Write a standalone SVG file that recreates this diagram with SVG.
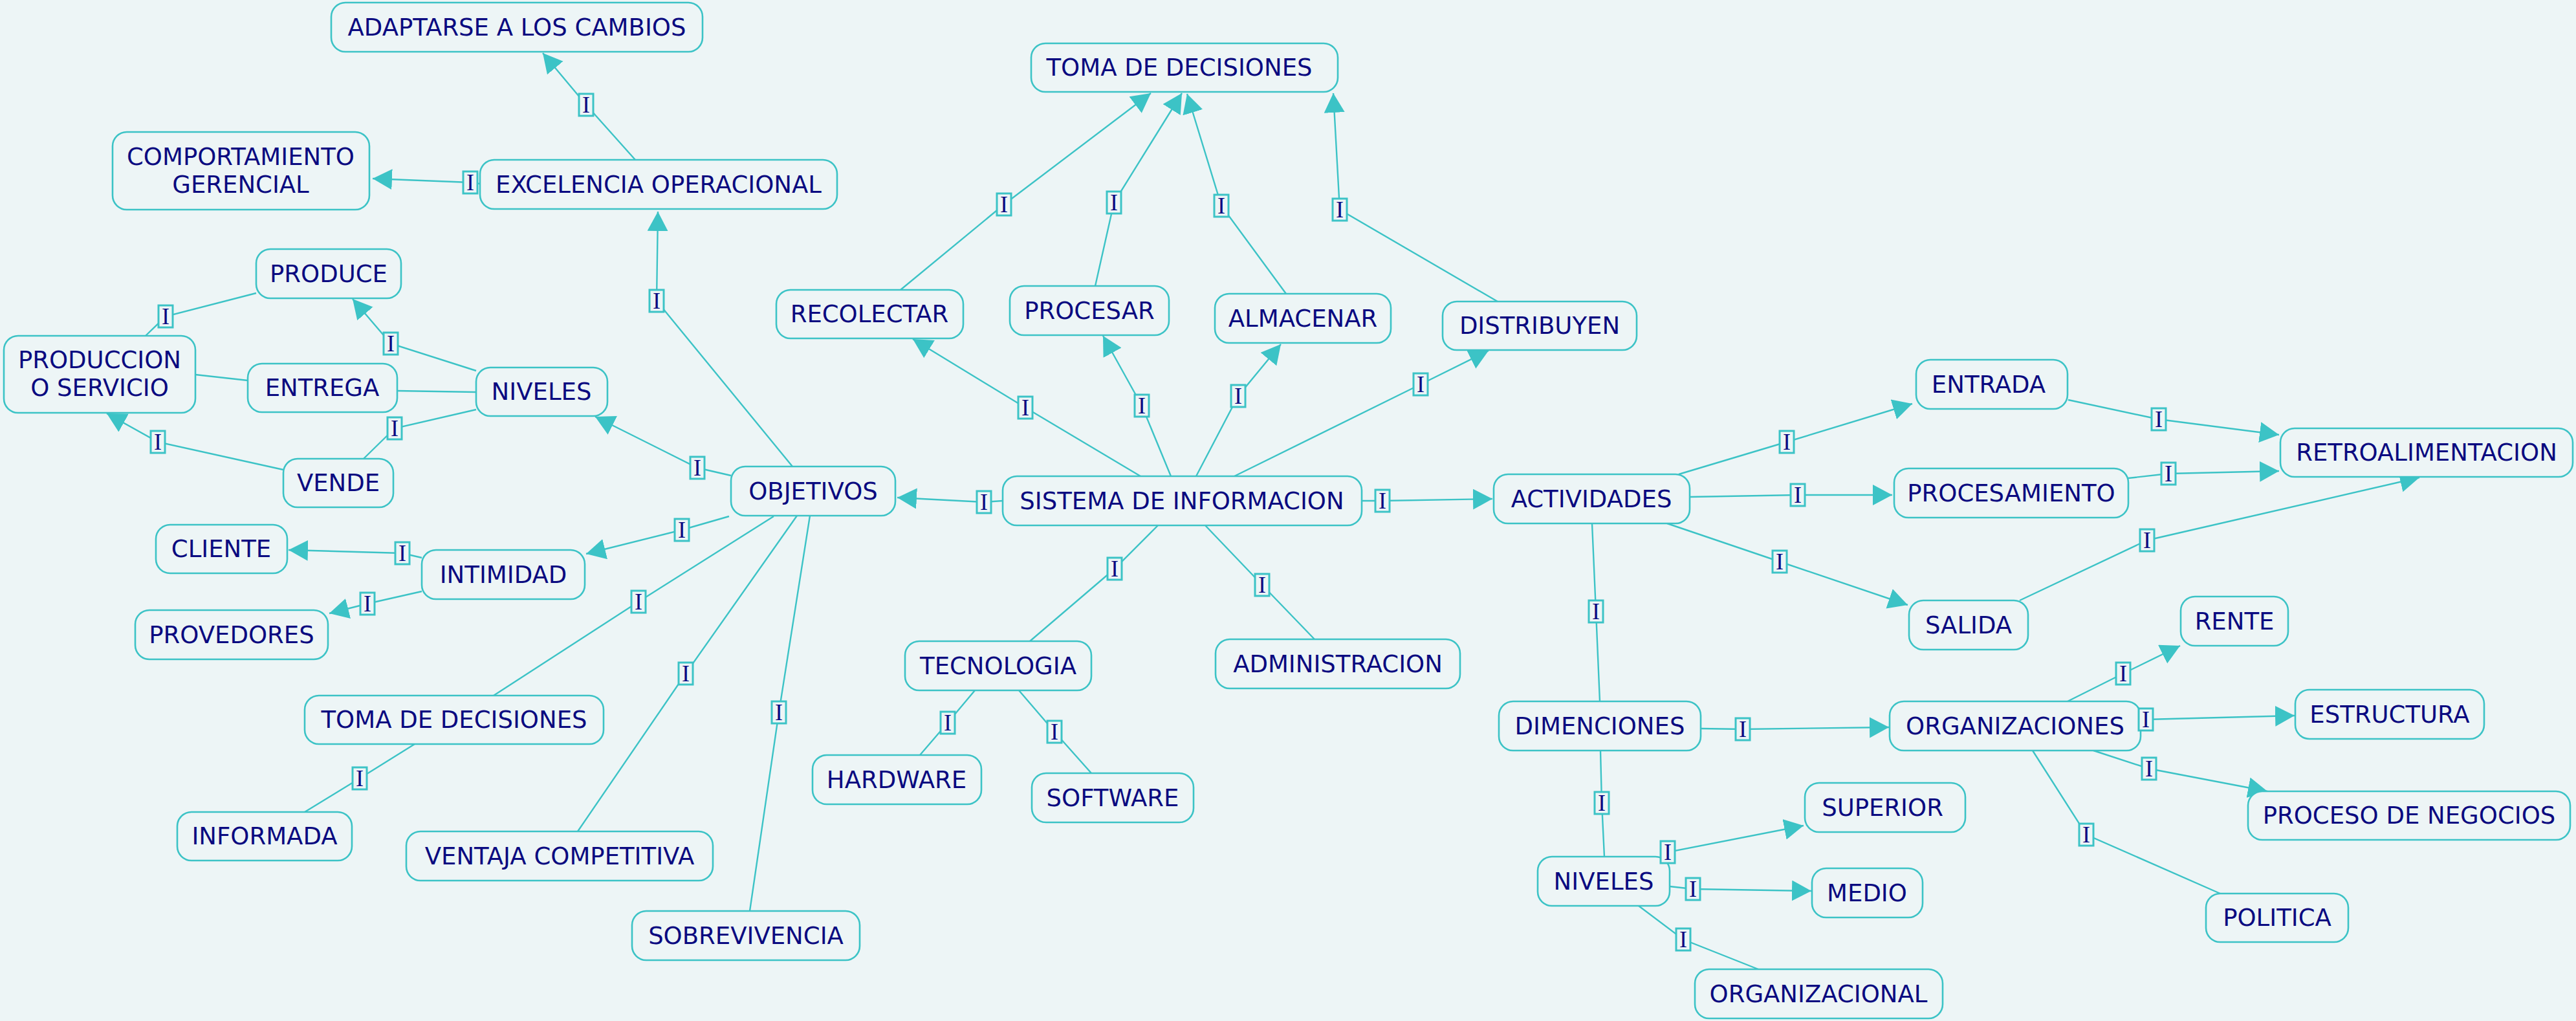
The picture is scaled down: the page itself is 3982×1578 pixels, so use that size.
<svg xmlns="http://www.w3.org/2000/svg" width="3982" height="1578" viewBox="0 0 3982 1578">
<style>
.bg{fill:#EDF5F6}
.n rect{fill:#EDF5F6;stroke:#3CC3C6;stroke-width:2.6}
.n text{font-family:"DejaVu Sans",Verdana,sans-serif;font-size:37px;fill:#0A0A80;text-anchor:middle}
.c polyline{fill:none;stroke:#3CC3C6;stroke-width:2.4}
.c polyline.a{marker-end:url(#ah)}
.lb rect{fill:#EDF5F6;stroke:#3CC3C6;stroke-width:3}
.lb text{font-family:"Liberation Serif",serif;font-size:36px;fill:#0A0A80;text-anchor:middle}
</style>
<defs>
<marker id="ah" markerUnits="userSpaceOnUse" markerWidth="32" markerHeight="34" refX="30" refY="16" orient="auto" viewBox="0 0 32 34">
<path d="M0,0 L30,16 L0,32 Z" fill="#3CC3C6"/>
</marker>
</defs>
<rect class="bg" x="0" y="0" width="3982" height="1578"/>

<g id="connectors" class="c">
<polyline class="a" points="982,247 906,162 839,82"/>
<polyline class="a" points="742,284 727,282 576,276"/>
<polyline class="a" points="1225,721 1015,465 1017,327"/>
<polyline class="a" points="1130,735 1078,723 920,644"/>
<polyline class="a" points="736,573 604,531 545,462"/>
<polyline points="736,606 614,604"/>
<polyline points="383,588 302,579"/>
<polyline points="736,633 610,662 562,709"/>
<polyline class="a" points="438,726 244,683 165,639"/>
<polyline points="396,453 256,489 225,519"/>
<polyline class="a" points="1127,798 1054,819 906,856"/>
<polyline class="a" points="652,862 622,855 446,850"/>
<polyline class="a" points="652,914 568,933 509,948"/>
<polyline points="1196,798 987,930 763,1075"/>
<polyline points="641,1150 556,1203 471,1255"/>
<polyline points="1232,797 1060,1041 893,1285"/>
<polyline points="1252,797 1204,1101 1159,1408"/>
<polyline class="a" points="1550,774 1521,776 1387,769"/>
<polyline class="a" points="2105,774 2137,774 2307,771"/>
<polyline class="a" points="1763,736 1585,630 1411,524"/>
<polyline class="a" points="1810,736 1765,627 1705,519"/>
<polyline class="a" points="1849,736 1914,612 1980,532"/>
<polyline class="a" points="1908,736 2196,594 2301,542"/>
<polyline class="a" points="1392,448 1552,316 1779,144"/>
<polyline class="a" points="1693,442 1722,313 1827,144"/>
<polyline class="a" points="1988,454 1888,318 1835,145"/>
<polyline class="a" points="2315,466 2071,324 2061,144"/>
<polyline points="1790,812 1723,879 1592,991"/>
<polyline points="1863,812 1951,904 2032,988"/>
<polyline points="1507,1067 1465,1117 1422,1167"/>
<polyline points="1575,1067 1630,1131 1687,1195"/>
<polyline class="a" points="2595,733 2762,683 2956,624"/>
<polyline class="a" points="2612,768 2779,765 2925,765"/>
<polyline class="a" points="2577,809 2751,868 2949,935"/>
<polyline class="a" points="3197,618 3337,648 3523,672"/>
<polyline class="a" points="3290,739 3352,732 3523,728"/>
<polyline class="a" points="3122,928 3319,835 3740,738"/>
<polyline points="2461,809 2467,945 2473,1084"/>
<polyline class="a" points="2629,1126 2694,1127 2920,1124"/>
<polyline points="2474,1160 2476,1241 2480,1324"/>
<polyline class="a" points="2570,1324 2578,1317 2788,1276"/>
<polyline class="a" points="2581,1370 2617,1374 2800,1377"/>
<polyline points="2533,1400 2602,1452 2718,1498"/>
<polyline class="a" points="3196,1084 3282,1041 3370,998"/>
<polyline class="a" points="3309,1113 3317,1112 3547,1106"/>
<polyline class="a" points="3236,1160 3322,1188 3505,1223"/>
<polyline points="3142,1160 3225,1290 3432,1381"/>
</g>

<g id="nodes" class="n">
<g id="n-adaptarse"><rect x="512" y="4" width="574" height="76" rx="22"/><text x="799" y="55">ADAPTARSE A LOS CAMBIOS</text></g>
<g id="n-comportamiento"><rect x="174" y="204" width="397" height="120" rx="22"/><text x="372" y="255">COMPORTAMIENTO</text><text x="372" y="298">GERENCIAL</text></g>
<g id="n-excelencia"><rect x="742" y="247" width="552" height="76" rx="22"/><text x="1018" y="298">EXCELENCIA OPERACIONAL</text></g>
<g id="n-produce"><rect x="396" y="385" width="224" height="76" rx="22"/><text x="508" y="436">PRODUCE</text></g>
<g id="n-produccion"><rect x="6" y="519" width="296" height="119" rx="22"/><text x="154" y="569">PRODUCCION</text><text x="154" y="612">O SERVICIO</text></g>
<g id="n-entrega"><rect x="383" y="562" width="231" height="75" rx="22"/><text x="498" y="612">ENTREGA</text></g>
<g id="n-niveles-l"><rect x="736" y="568" width="203" height="75" rx="22"/><text x="837" y="618">NIVELES</text></g>
<g id="n-vende"><rect x="438" y="709" width="170" height="75" rx="22"/><text x="523" y="759">VENDE</text></g>
<g id="n-objetivos"><rect x="1130" y="721" width="254" height="76" rx="22"/><text x="1257" y="772">OBJETIVOS</text></g>
<g id="n-recolectar"><rect x="1200" y="448" width="289" height="75" rx="22"/><text x="1344" y="498">RECOLECTAR</text></g>
<g id="n-toma-top"><rect x="1594" y="67" width="474" height="75" rx="22"/><text x="1823" y="117">TOMA DE DECISIONES</text></g>
<g id="n-procesar"><rect x="1561" y="442" width="246" height="76" rx="22"/><text x="1684" y="493">PROCESAR</text></g>
<g id="n-almacenar"><rect x="1878" y="454" width="272" height="76" rx="22"/><text x="2014" y="505">ALMACENAR</text></g>
<g id="n-distribuyen"><rect x="2230" y="466" width="300" height="75" rx="22"/><text x="2380" y="516">DISTRIBUYEN</text></g>
<g id="n-sistema"><rect x="1550" y="736" width="555" height="76" rx="22"/><text x="1827" y="787">SISTEMA DE INFORMACION</text></g>
<g id="n-actividades"><rect x="2309" y="733" width="303" height="76" rx="22"/><text x="2460" y="784">ACTIVIDADES</text></g>
<g id="n-tecnologia"><rect x="1399" y="991" width="288" height="76" rx="22"/><text x="1543" y="1042">TECNOLOGIA</text></g>
<g id="n-administracion"><rect x="1879" y="988" width="378" height="76" rx="22"/><text x="2068" y="1039">ADMINISTRACION</text></g>
<g id="n-hardware"><rect x="1256" y="1167" width="261" height="76" rx="22"/><text x="1386" y="1218">HARDWARE</text></g>
<g id="n-software"><rect x="1595" y="1195" width="250" height="76" rx="22"/><text x="1720" y="1246">SOFTWARE</text></g>
<g id="n-cliente"><rect x="241" y="811" width="203" height="75" rx="22"/><text x="342" y="861">CLIENTE</text></g>
<g id="n-intimidad"><rect x="652" y="850" width="252" height="76" rx="22"/><text x="778" y="901">INTIMIDAD</text></g>
<g id="n-provedores"><rect x="209" y="943" width="298" height="76" rx="22"/><text x="358" y="994">PROVEDORES</text></g>
<g id="n-toma-left"><rect x="471" y="1075" width="462" height="75" rx="22"/><text x="702" y="1125">TOMA DE DECISIONES</text></g>
<g id="n-informada"><rect x="274" y="1255" width="270" height="75" rx="22"/><text x="409" y="1305">INFORMADA</text></g>
<g id="n-ventaja"><rect x="628" y="1285" width="474" height="76" rx="22"/><text x="865" y="1336">VENTAJA COMPETITIVA</text></g>
<g id="n-sobrevivencia"><rect x="977" y="1408" width="352" height="76" rx="22"/><text x="1153" y="1459">SOBREVIVENCIA</text></g>
<g id="n-entrada"><rect x="2962" y="556" width="234" height="76" rx="22"/><text x="3074" y="607">ENTRADA</text></g>
<g id="n-procesamiento"><rect x="2928" y="724" width="362" height="76" rx="22"/><text x="3109" y="775">PROCESAMIENTO</text></g>
<g id="n-retro"><rect x="3525" y="662" width="452" height="75" rx="22"/><text x="3751" y="712">RETROALIMENTACION</text></g>
<g id="n-salida"><rect x="2951" y="928" width="184" height="76" rx="22"/><text x="3043" y="979">SALIDA</text></g>
<g id="n-rente"><rect x="3371" y="922" width="166" height="76" rx="22"/><text x="3454" y="973">RENTE</text></g>
<g id="n-estructura"><rect x="3548" y="1066" width="292" height="76" rx="22"/><text x="3694" y="1117">ESTRUCTURA</text></g>
<g id="n-organizaciones"><rect x="2921" y="1084" width="388" height="76" rx="22"/><text x="3115" y="1135">ORGANIZACIONES</text></g>
<g id="n-dimenciones"><rect x="2317" y="1084" width="312" height="76" rx="22"/><text x="2473" y="1135">DIMENCIONES</text></g>
<g id="n-proceso"><rect x="3475" y="1223" width="498" height="75" rx="22"/><text x="3724" y="1273">PROCESO DE NEGOCIOS</text></g>
<g id="n-superior"><rect x="2790" y="1210" width="248" height="76" rx="22"/><text x="2910" y="1261">SUPERIOR</text></g>
<g id="n-niveles-r"><rect x="2377" y="1324" width="204" height="76" rx="22"/><text x="2479" y="1375">NIVELES</text></g>
<g id="n-medio"><rect x="2801" y="1342" width="171" height="76" rx="22"/><text x="2886" y="1393">MEDIO</text></g>
<g id="n-politica"><rect x="3410" y="1381" width="220" height="75" rx="22"/><text x="3520" y="1431">POLITICA</text></g>
<g id="n-organizacional"><rect x="2620" y="1498" width="383" height="76" rx="22"/><text x="2811" y="1549">ORGANIZACIONAL</text></g>
</g>

<g id="link-labels" class="lb">
<g transform="translate(906,162)"><rect x="-11" y="-17" width="22" height="34"/><text y="12">I</text></g>
<g transform="translate(727,282)"><rect x="-11" y="-17" width="22" height="34"/><text y="12">I</text></g>
<g transform="translate(1015,465)"><rect x="-11" y="-17" width="22" height="34"/><text y="12">I</text></g>
<g transform="translate(1078,723)"><rect x="-11" y="-17" width="22" height="34"/><text y="12">I</text></g>
<g transform="translate(604,531)"><rect x="-11" y="-17" width="22" height="34"/><text y="12">I</text></g>
<g transform="translate(610,662)"><rect x="-11" y="-17" width="22" height="34"/><text y="12">I</text></g>
<g transform="translate(244,683)"><rect x="-11" y="-17" width="22" height="34"/><text y="12">I</text></g>
<g transform="translate(256,489)"><rect x="-11" y="-17" width="22" height="34"/><text y="12">I</text></g>
<g transform="translate(1054,819)"><rect x="-11" y="-17" width="22" height="34"/><text y="12">I</text></g>
<g transform="translate(622,855)"><rect x="-11" y="-17" width="22" height="34"/><text y="12">I</text></g>
<g transform="translate(568,933)"><rect x="-11" y="-17" width="22" height="34"/><text y="12">I</text></g>
<g transform="translate(987,930)"><rect x="-11" y="-17" width="22" height="34"/><text y="12">I</text></g>
<g transform="translate(556,1203)"><rect x="-11" y="-17" width="22" height="34"/><text y="12">I</text></g>
<g transform="translate(1060,1041)"><rect x="-11" y="-17" width="22" height="34"/><text y="12">I</text></g>
<g transform="translate(1204,1101)"><rect x="-11" y="-17" width="22" height="34"/><text y="12">I</text></g>
<g transform="translate(1521,776)"><rect x="-11" y="-17" width="22" height="34"/><text y="12">I</text></g>
<g transform="translate(2137,774)"><rect x="-11" y="-17" width="22" height="34"/><text y="12">I</text></g>
<g transform="translate(1585,630)"><rect x="-11" y="-17" width="22" height="34"/><text y="12">I</text></g>
<g transform="translate(1765,627)"><rect x="-11" y="-17" width="22" height="34"/><text y="12">I</text></g>
<g transform="translate(1914,612)"><rect x="-11" y="-17" width="22" height="34"/><text y="12">I</text></g>
<g transform="translate(2196,594)"><rect x="-11" y="-17" width="22" height="34"/><text y="12">I</text></g>
<g transform="translate(1552,316)"><rect x="-11" y="-17" width="22" height="34"/><text y="12">I</text></g>
<g transform="translate(1722,313)"><rect x="-11" y="-17" width="22" height="34"/><text y="12">I</text></g>
<g transform="translate(1888,318)"><rect x="-11" y="-17" width="22" height="34"/><text y="12">I</text></g>
<g transform="translate(2071,324)"><rect x="-11" y="-17" width="22" height="34"/><text y="12">I</text></g>
<g transform="translate(1723,879)"><rect x="-11" y="-17" width="22" height="34"/><text y="12">I</text></g>
<g transform="translate(1951,904)"><rect x="-11" y="-17" width="22" height="34"/><text y="12">I</text></g>
<g transform="translate(1465,1117)"><rect x="-11" y="-17" width="22" height="34"/><text y="12">I</text></g>
<g transform="translate(1630,1131)"><rect x="-11" y="-17" width="22" height="34"/><text y="12">I</text></g>
<g transform="translate(2762,683)"><rect x="-11" y="-17" width="22" height="34"/><text y="12">I</text></g>
<g transform="translate(2779,765)"><rect x="-11" y="-17" width="22" height="34"/><text y="12">I</text></g>
<g transform="translate(2751,868)"><rect x="-11" y="-17" width="22" height="34"/><text y="12">I</text></g>
<g transform="translate(3337,648)"><rect x="-11" y="-17" width="22" height="34"/><text y="12">I</text></g>
<g transform="translate(3352,732)"><rect x="-11" y="-17" width="22" height="34"/><text y="12">I</text></g>
<g transform="translate(3319,835)"><rect x="-11" y="-17" width="22" height="34"/><text y="12">I</text></g>
<g transform="translate(2467,945)"><rect x="-11" y="-17" width="22" height="34"/><text y="12">I</text></g>
<g transform="translate(2694,1127)"><rect x="-11" y="-17" width="22" height="34"/><text y="12">I</text></g>
<g transform="translate(2476,1241)"><rect x="-11" y="-17" width="22" height="34"/><text y="12">I</text></g>
<g transform="translate(2578,1317)"><rect x="-11" y="-17" width="22" height="34"/><text y="12">I</text></g>
<g transform="translate(2617,1374)"><rect x="-11" y="-17" width="22" height="34"/><text y="12">I</text></g>
<g transform="translate(2602,1452)"><rect x="-11" y="-17" width="22" height="34"/><text y="12">I</text></g>
<g transform="translate(3282,1041)"><rect x="-11" y="-17" width="22" height="34"/><text y="12">I</text></g>
<g transform="translate(3317,1112)"><rect x="-11" y="-17" width="22" height="34"/><text y="12">I</text></g>
<g transform="translate(3322,1188)"><rect x="-11" y="-17" width="22" height="34"/><text y="12">I</text></g>
<g transform="translate(3225,1290)"><rect x="-11" y="-17" width="22" height="34"/><text y="12">I</text></g>
</g>
</svg>
